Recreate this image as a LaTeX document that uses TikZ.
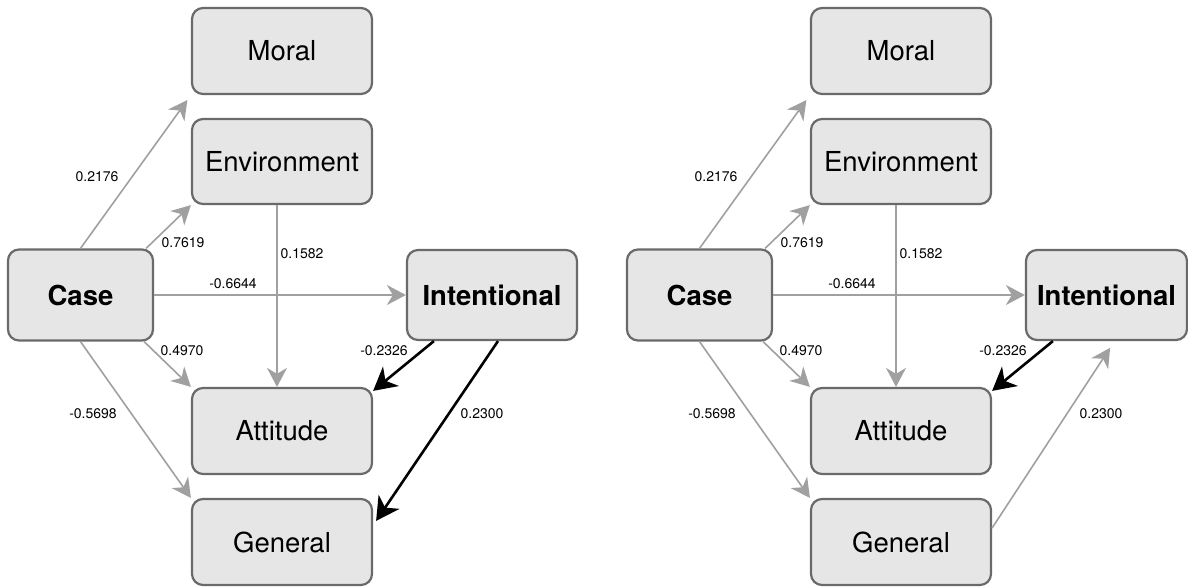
\documentclass[tikz,border=0pt]{standalone}
\usepackage{fontspec}
\setmainfont{TeX Gyre Heros}
\usetikzlibrary{arrows.meta,calc}
\definecolor{boxfill}{HTML}{E6E6E6}
\definecolor{boxline}{HTML}{6A6A6A}
\definecolor{pathgray}{HTML}{A0A0A0}
\tikzset{
  var/.style={draw=boxline, fill=boxfill, line width=2.2pt, rounded corners=11pt, inner sep=0pt,
    minimum width=180pt, minimum height=86pt, font=\fontsize{27.5}{33}\selectfont},
  mainvar/.style={var, font=\fontsize{27.5}{33}\selectfont\bfseries},
  weak/.style={draw=pathgray, line width=1.6pt, -{Stealth[length=19pt,width=20pt,inset=6pt]}},
  strong/.style={draw=black, line width=2.6pt, -{Stealth[length=23pt,width=25pt,inset=7pt]}},
  coef/.style={font=\fontsize{14}{16}\selectfont, inner sep=0pt}
}

\begin{document}
\begin{tikzpicture}[x=1pt,y=-1pt]
  \useasboundingbox (0,0) rectangle (1188,586);
  % left model
  \begin{scope}
    \node[mainvar, minimum width=145pt, minimum height=91pt] (case1) at (80.5,295) {Case};
    \node[var] (moral1) at (282,51) {Moral};
    \node[var, minimum height=85pt] (env1) at (282,161.5) {Environment};
    \node[mainvar, minimum width=170pt, minimum height=90pt] (int1) at (492,295) {Intentional};
    \node[var] (att1) at (282,431) {Attitude};
    \node[var] (gen1) at (282,542) {General};
    \draw[weak, shorten >=6pt] (case1.north) -- (moral1.south west);
    \draw[weak] ($(case1.north east)+(-8,0)$) -- (env1.south west);
    \draw[weak] ($(env1.south)+(-5,0)$) -- ($(att1.north)+(-5,0)$);
    \draw[weak] (case1.east) -- (int1.west);
    \draw[weak] ($(case1.south east)+(-10,0)$) -- (att1.north west);
    \draw[weak] (case1.south) -- (gen1.north west);
    \draw[strong] ($(int1.south west)+(28,0)$) -- ($(att1.north east)+(0,4)$);
    \draw[strong] ($(int1.south)+(6,0)$) -- ($(gen1.north east)+(3,23)$);
    \node[coef] (c1a) at (97,177) {0.2176};
    \node[coef] (c1b) at (183,243) {0.7619};
    \node[coef] (c1c) at (302,254) {0.1582};
    \node[coef] (c1d) at (233,284) {-0.6644};
    \node[coef] (c1e) at (182,351) {0.4970};
    \node[coef] (c1f) at (93,414) {-0.5698};
    \node[coef] (c1g) at (384,351) {-0.2326};
    \node[coef] (c1h) at (482,414) {0.2300};
  \end{scope}
  % right model
  \begin{scope}[xshift=619pt]
    \node[mainvar, minimum width=145pt, minimum height=91pt] (case2) at (80.5,295) {Case};
    \node[var] (moral2) at (282,51) {Moral};
    \node[var, minimum height=85pt] (env2) at (282,161.5) {Environment};
    \node[mainvar, minimum width=161pt, minimum height=90pt] (int2) at (487.5,295) {Intentional};
    \node[var] (att2) at (282,431) {Attitude};
    \node[var] (gen2) at (282,542) {General};
    \draw[weak, shorten >=6pt] (case2.north) -- (moral2.south west);
    \draw[weak] ($(case2.north east)+(-8,0)$) -- (env2.south west);
    \draw[weak] ($(env2.south)+(-5,0)$) -- ($(att2.north)+(-5,0)$);
    \draw[weak] (case2.east) -- (int2.west);
    \draw[weak] ($(case2.south east)+(-10,0)$) -- (att2.north west);
    \draw[weak] (case2.south) -- (gen2.north west);
    \draw[strong] ($(int2.south west)+(28,0)$) -- ($(att2.north east)+(0,4)$);
    \draw[weak, shorten >=8pt] ($(gen2.east)+(0,-14)$) -- ($(int2.south)+(8,0)$);
    \node[coef] (c2a) at (97,177) {0.2176};
    \node[coef] (c2b) at (183,243) {0.7619};
    \node[coef] (c2c) at (302,254) {0.1582};
    \node[coef] (c2d) at (233,284) {-0.6644};
    \node[coef] (c2e) at (182,351) {0.4970};
    \node[coef] (c2f) at (93,414) {-0.5698};
    \node[coef] (c2g) at (384,351) {-0.2326};
    \node[coef] (c2h) at (482,414) {0.2300};
  \end{scope}
\end{tikzpicture}
\end{document}
